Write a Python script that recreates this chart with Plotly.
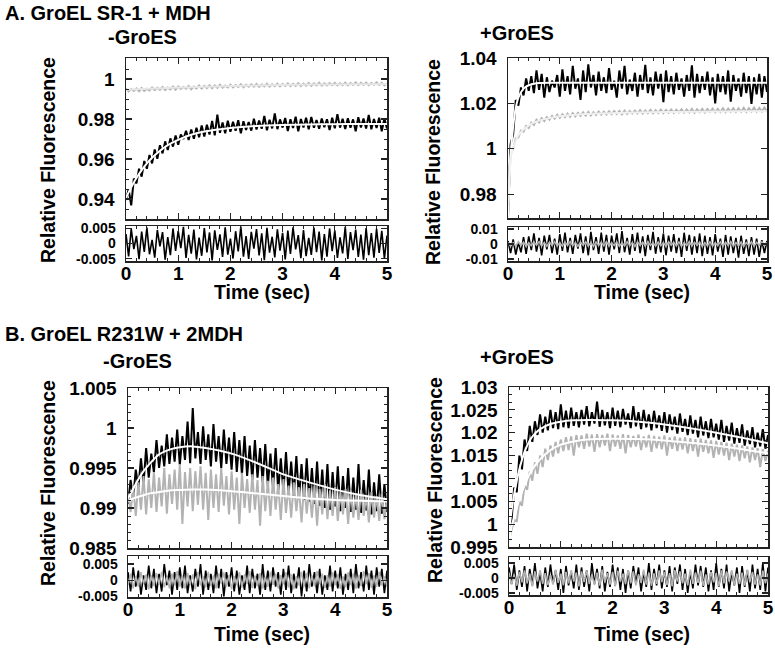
import numpy as np
import plotly.graph_objects as go

W, H = 775, 651
FONT = "Liberation Sans"
BLACK = "#000000"
GREY = "#b3b3b3"

# ---------------- data ----------------
# sampling grid of the recorded traces (sec)
T = list(np.round(np.linspace(0, 5, 101), 3))
# grid of the fitted curves (sec)
FT = [0, .05, .1, .15, .2, .3, .4, .5, .6, .8, 1.0, 1.25, 1.5, 2, 2.5, 3, 3.5, 4, 4.5, 5]

# A. GroEL SR-1 + MDH, -GroES
a1_black = [.9395, .9448, .9368, .9502, .9478, .9551, .9512, .9590, .9551, .9620,
            .9578, .9648, .9601, .9669, .9628, .9688, .9645, .9703, .9662, .9718,
            .9671, .9722, .9700, .9741, .9695, .9748, .9701, .9756, .9709, .9768,
            .9712, .9771, .9722, .9790, .9718, .9822, .9731, .9782, .9729, .9791,
            .9736, .9786, .9741, .9794, .9728, .9789, .9745, .9785, .9742, .9801,
            .9748, .9792, .9751, .9815, .9744, .9796, .9753, .9828, .9749, .9798,
            .9757, .9805, .9740, .9799, .9755, .9811, .9738, .9800, .9758, .9806,
            .9748, .9810, .9756, .9795, .9751, .9802, .9759, .9799, .9745, .9806,
            .9754, .9824, .9757, .9801, .9750, .9804, .9756, .9798, .9739, .9809,
            .9758, .9802, .9752, .9820, .9749, .9800, .9755, .9806, .9738, .9803,
            .9752]
a1_grey = [.9952, .9938, .9950, .9940, .9953, .9939, .9955, .9941, .9951, .9943,
           .9958, .9944, .9956, .9946, .9960, .9945, .9957, .9948, .9962, .9947,
           .9963, .9950, .9960, .9951, .9965, .9949, .9962, .9953, .9967, .9952,
           .9966, .9955, .9969, .9954, .9968, .9956, .9971, .9957, .9967, .9958,
           .9972, .9958, .9970, .9960, .9974, .9959, .9971, .9961, .9973, .9962,
           .9975, .9961, .9972, .9963, .9976, .9962, .9974, .9964, .9977, .9963,
           .9975, .9965, .9978, .9964, .9976, .9966, .9979, .9965, .9977, .9967,
           .9980, .9966, .9978, .9968, .9981, .9967, .9978, .9968, .9980, .9969,
           .9981, .9968, .9979, .9969, .9982, .9968, .9980, .9970, .9983, .9969,
           .9981, .9970, .9982, .9969, .9980, .9971, .9983, .9970, .9981, .9968,
           .9979]
a1_black_fit = [.9405, .9433, .9459, .9483, .9505, .9544, .9578, .9606, .9630, .9669,
                .9696, .9721, .9737, .9755, .9765, .9770, .9773, .9774, .9775, .9775]
a1_grey_fit = [.9945, .9946, .9947, .9948, .9949, .9950, .9951, .9952, .9953, .9955,
               .9957, .9959, .9961, .9965, .9968, .9970, .9972, .9973, .9974, .9975]
a1_res_black = [.0031, -.0042, .0048, -.0018, .0025, -.0051, .0039, -.0027, .0052, -.0035,
                .0012, -.0046, .0044, -.0009, .0037, -.0053, .0021, -.0038, .0049, -.0024,
                .0041, -.0015, .0054, -.0047, .0028, -.0033, .0045, -.0052, .0019, -.0040,
                .0050, -.0029, .0036, -.0055, .0043, -.0021, .0030, -.0044, .0053, -.0036,
                .0016, -.0049, .0040, -.0026, .0055, -.0043, .0024, -.0050, .0038, -.0017,
                .0047, -.0039, .0033, -.0054, .0051, -.0030, .0022, -.0045, .0046, -.0023,
                .0035, -.0052, .0042, -.0034, .0053, -.0019, .0027, -.0048, .0044, -.0041,
                .0018, -.0037, .0052, -.0028, .0039, -.0055, .0031, -.0043, .0049, -.0025,
                .0043, -.0047, .0020, -.0032, .0054, -.0050, .0037, -.0022, .0045, -.0044,
                .0029, -.0053, .0050, -.0038, .0034, -.0046, .0048, -.0031, .0041, -.0049,
                .0026]

# A. GroEL SR-1 + MDH, +GroES
a2_black = [.9700, 1.0020, 1.0065, 1.0215, 1.0190, 1.0270, 1.0235, 1.0310, 1.0255, 1.0320,
            1.0245, 1.0345, 1.0260, 1.0330, 1.0225, 1.0315, 1.0250, 1.0300, 1.0270, 1.0325,
            1.0230, 1.0350, 1.0255, 1.0320, 1.0240, 1.0365, 1.0265, 1.0310, 1.0215, 1.0345,
            1.0250, 1.0372, 1.0270, 1.0325, 1.0235, 1.0340, 1.0255, 1.0315, 1.0245, 1.0355,
            1.0260, 1.0300, 1.0225, 1.0345, 1.0265, 1.0365, 1.0240, 1.0305, 1.0255, 1.0335,
            1.0230, 1.0325, 1.0260, 1.0370, 1.0245, 1.0315, 1.0235, 1.0340, 1.0265, 1.0330,
            1.0205, 1.0345, 1.0250, 1.0320, 1.0240, 1.0335, 1.0260, 1.0310, 1.0230, 1.0325,
            1.0255, 1.0368, 1.0225, 1.0330, 1.0245, 1.0320, 1.0260, 1.0340, 1.0235, 1.0315,
            1.0200, 1.0330, 1.0250, 1.0320, 1.0240, 1.0345, 1.0208, 1.0325, 1.0255, 1.0310,
            1.0230, 1.0335, 1.0245, 1.0320, 1.0198, 1.0315, 1.0240, 1.0330, 1.0225, 1.0320,
            1.0250]
a2_grey = [.9740, .9975, 1.0000, 1.0045, 1.0050, 1.0080, 1.0075, 1.0100, 1.0092, 1.0115,
           1.0105, 1.0128, 1.0116, 1.0135, 1.0122, 1.0140, 1.0128, 1.0145, 1.0133, 1.0150,
           1.0136, 1.0152, 1.0139, 1.0155, 1.0141, 1.0157, 1.0143, 1.0158, 1.0145, 1.0160,
           1.0146, 1.0162, 1.0147, 1.0161, 1.0149, 1.0164, 1.0150, 1.0163, 1.0151, 1.0165,
           1.0152, 1.0166, 1.0153, 1.0167, 1.0152, 1.0168, 1.0154, 1.0167, 1.0155, 1.0169,
           1.0156, 1.0170, 1.0155, 1.0169, 1.0157, 1.0171, 1.0156, 1.0170, 1.0158, 1.0172,
           1.0157, 1.0171, 1.0159, 1.0173, 1.0158, 1.0172, 1.0160, 1.0174, 1.0159, 1.0173,
           1.0160, 1.0175, 1.0159, 1.0174, 1.0161, 1.0176, 1.0160, 1.0175, 1.0162, 1.0177,
           1.0161, 1.0176, 1.0162, 1.0178, 1.0161, 1.0177, 1.0163, 1.0179, 1.0162, 1.0178,
           1.0163, 1.0180, 1.0162, 1.0179, 1.0164, 1.0181, 1.0163, 1.0180, 1.0164, 1.0182,
           1.0165]
a2_black_fit = [.9700, .9970, 1.0100, 1.0180, 1.0225, 1.0265, 1.0280, 1.0287, 1.0290, 1.0291,
                1.0291, 1.0291, 1.0291, 1.0291, 1.0291, 1.0291, 1.0291, 1.0291, 1.0291, 1.0291]
a2_grey_fit = [.9750, .9960, 1.0005, 1.0035, 1.0060, 1.0085, 1.0102, 1.0115, 1.0124, 1.0135,
               1.0143, 1.0149, 1.0153, 1.0157, 1.0160, 1.0162, 1.0163, 1.0164, 1.0165, 1.0165]
a2_res_black = [.0020, -.0060, .0030, -.0070, .0010, -.0055, .0045, -.0065, .0050, -.0040,
                .0070, -.0050, .0040, -.0075, .0055, -.0035, .0060, -.0060, .0035, -.0070,
                .0065, -.0045, .0075, -.0055, .0040, -.0065, .0060, -.0030, .0070, -.0060,
                .0050, -.0075, .0080, -.0040, .0045, -.0065, .0075, -.0050, .0060, -.0070,
                .0055, -.0035, .0070, -.0060, .0085, -.0055, .0040, -.0070, .0065, -.0045,
                .0075, -.0060, .0050, -.0080, .0060, -.0040, .0080, -.0065, .0045, -.0055,
                .0070, -.0075, .0055, -.0050, .0065, -.0060, .0040, -.0085, .0075, -.0045,
                .0060, -.0070, .0050, -.0060, .0070, -.0080, .0055, -.0065, .0045, -.0075,
                .0065, -.0050, .0035, -.0085, .0060, -.0070, .0050, -.0060, .0040, -.0090,
                .0055, -.0065, .0030, -.0080, .0045, -.0070, .0035, -.0085, .0025, -.0060,
                .0020]
a2_res_grey = [.0010, -.0014, .0008, -.0012, .0015, -.0010, .0012, -.0016, .0009, -.0011,
               .0014, -.0008, .0016, -.0013, .0010, -.0015, .0012, -.0009, .0015, -.0012,
               .0008, -.0014, .0013, -.0010, .0016, -.0011, .0009, -.0015, .0012, -.0008,
               .0015, -.0013, .0010, -.0016, .0014, -.0009, .0011, -.0012, .0016, -.0014,
               .0009, -.0010, .0013, -.0015, .0008, -.0012, .0015, -.0011, .0010, -.0016,
               .0014, -.0009, .0012, -.0013, .0016, -.0010, .0009, -.0014, .0013, -.0011,
               .0010, -.0016, .0015, -.0008, .0012, -.0012, .0014, -.0015, .0009, -.0010,
               .0016, -.0013, .0011, -.0009, .0013, -.0016, .0010, -.0012, .0015, -.0014,
               .0008, -.0011, .0014, -.0015, .0012, -.0009, .0016, -.0013, .0010, -.0012,
               .0013, -.0016, .0009, -.0010, .0015, -.0014, .0011, -.0008, .0014, -.0013,
               .0010]

# B. GroEL R231W + 2MDH, -GroES
b1_black = [.9905, .9935, .9912, .9948, .9925, .9962, .9930, .9975, .9938, .9968,
            .9945, .9985, .9950, .9978, .9952, .9992, .9955, .9988, .9958, .9998,
            .9954, .9990, .9960, 1.0008, .9956, 1.0025, .9962, .9995, .9955, 1.0002,
            .9960, .9992, .9952, 1.0005, .9958, .9990, .9950, .9998, .9955, .9988,
            .9948, .9995, .9945, .9985, .9942, .9990, .9940, .9978, .9935, .9985,
            .9938, .9975, .9932, .9980, .9928, .9968, .9925, .9975, .9922, .9962,
            .9920, .9970, .9918, .9958, .9915, .9965, .9912, .9955, .9910, .9962,
            .9908, .9950, .9905, .9958, .9903, .9948, .9900, .9955, .9898, .9945,
            .9902, .9952, .9896, .9940, .9900, .9950, .9895, .9938, .9898, .9955,
            .9894, .9935, .9897, .9948, .9892, .9932, .9896, .9942, .9893, .9930,
            .9895]
b1_grey = [.9918, .9895, .9928, .9890, .9932, .9898, .9940, .9892, .9936, .9900,
           .9945, .9895, .9938, .9902, .9950, .9893, .9942, .9905, .9948, .9898,
           .9955, .9880, .9945, .9902, .9950, .9896, .9946, .9904, .9952, .9898,
           .9944, .9885, .9948, .9900, .9942, .9895, .9950, .9903, .9940, .9892,
           .9946, .9898, .9938, .9880, .9944, .9900, .9936, .9894, .9942, .9898,
           .9935, .9878, .9940, .9896, .9934, .9890, .9938, .9898, .9930, .9885,
           .9936, .9894, .9928, .9888, .9932, .9896, .9926, .9882, .9930, .9893,
           .9925, .9888, .9928, .9878, .9924, .9892, .9930, .9886, .9922, .9890,
           .9926, .9884, .9920, .9892, .9924, .9880, .9922, .9888, .9918, .9885,
           .9923, .9890, .9916, .9882, .9920, .9888, .9915, .9884, .9918, .9886,
           .9912]
b1_black_fit = [.9912, .9918, .9924, .9930, .9936, .9946, .9954, .9961, .9967, .9973,
                .9976, .9977, .9975, .9968, .9956, .9942, .9932, .9923, .9916, .9911]
b1_grey_fit = [.9909, .9910, .9912, .9913, .9914, .9916, .9918, .9919, .9920, .9922,
               .99225, .9923, .9923, .9921, .9918, .9915, .9912, .9910, .9909, .9908]
b1_res_black = [.0025, -.0035, .0040, -.0020, .0030, -.0045, .0015, -.0030, .0045, -.0025,
                .0035, -.0040, .0020, -.0035, .0050, -.0015, .0030, -.0045, .0025, -.0030,
                .0040, -.0025, .0045, -.0040, .0015, -.0035, .0035, -.0020, .0050, -.0045,
                .0030, -.0030, .0020, -.0040, .0045, -.0025, .0035, -.0050, .0025, -.0020,
                .0040, -.0035, .0030, -.0045, .0015, -.0030, .0045, -.0040, .0035, -.0025,
                .0020, -.0045, .0050, -.0030, .0030, -.0035, .0040, -.0020, .0025, -.0045,
                .0035, -.0030, .0045, -.0040, .0020, -.0025, .0040, -.0050, .0030, -.0035,
                .0050, -.0020, .0025, -.0040, .0035, -.0045, .0015, -.0030, .0045, -.0035,
                .0030, -.0025, .0040, -.0045, .0020, -.0030, .0035, -.0040, .0050, -.0025,
                .0025, -.0035, .0045, -.0030, .0030, -.0045, .0040, -.0020, .0035, -.0040,
                .0030]
b1_res_grey = [-.0015, .0020, -.0025, .0012, -.0020, .0025, -.0010, .0018, -.0028, .0015,
               -.0018, .0022, -.0012, .0026, -.0022, .0010, -.0025, .0020, -.0015, .0028,
               -.0020, .0014, -.0026, .0022, -.0012, .0018, -.0028, .0025, -.0016, .0012,
               -.0022, .0026, -.0018, .0015, -.0025, .0020, -.0010, .0024, -.0020, .0016,
               -.0028, .0012, -.0015, .0025, -.0022, .0018, -.0012, .0028, -.0024, .0014,
               -.0018, .0022, -.0026, .0010, -.0020, .0026, -.0014, .0020, -.0025, .0016,
               -.0012, .0024, -.0022, .0018, -.0028, .0012, -.0016, .0026, -.0020, .0022,
               -.0025, .0014, -.0018, .0028, -.0012, .0020, -.0024, .0016, -.0020, .0025,
               -.0015, .0018, -.0027, .0012, -.0022, .0024, -.0014, .0020, -.0026, .0016,
               -.0018, .0028, -.0012, .0022, -.0024, .0015, -.0020, .0026, -.0016, .0012,
               -.0020]

# B. GroEL R231W + 2MDH, +GroES
b2_black = [.9990, 1.0010, 1.0080, 1.0070, 1.0150, 1.0120, 1.0185, 1.0160, 1.0215, 1.0180,
            1.0225, 1.0195, 1.0240, 1.0200, 1.0235, 1.0205, 1.0250, 1.0210, 1.0245, 1.0208,
            1.0262, 1.0212, 1.0248, 1.0210, 1.0255, 1.0215, 1.0245, 1.0212, 1.0250, 1.0218,
            1.0258, 1.0214, 1.0245, 1.0220, 1.0268, 1.0213, 1.0250, 1.0216, 1.0245, 1.0210,
            1.0255, 1.0215, 1.0248, 1.0212, 1.0252, 1.0218, 1.0242, 1.0210, 1.0258, 1.0214,
            1.0245, 1.0208, 1.0250, 1.0212, 1.0240, 1.0205, 1.0248, 1.0210, 1.0238, 1.0204,
            1.0245, 1.0200, 1.0240, 1.0206, 1.0235, 1.0198, 1.0242, 1.0202, 1.0230, 1.0195,
            1.0238, 1.0198, 1.0228, 1.0190, 1.0235, 1.0194, 1.0225, 1.0188, 1.0230, 1.0190,
            1.0220, 1.0185, 1.0228, 1.0180, 1.0215, 1.0183, 1.0222, 1.0176, 1.0210, 1.0178,
            1.0218, 1.0172, 1.0205, 1.0175, 1.0212, 1.0168, 1.0200, 1.0170, 1.0208, 1.0165,
            1.0195]
b2_grey = [.9965, .9985, 1.0010, 1.0005, 1.0050, 1.0040, 1.0085, 1.0075, 1.0115, 1.0095,
           1.0135, 1.0110, 1.0150, 1.0125, 1.0165, 1.0140, 1.0172, 1.0148, 1.0180, 1.0155,
           1.0185, 1.0160, 1.0190, 1.0162, 1.0192, 1.0150, 1.0195, 1.0168, 1.0194, 1.0165,
           1.0198, 1.0170, 1.0196, 1.0158, 1.0197, 1.0168, 1.0195, 1.0172, 1.0198, 1.0160,
           1.0196, 1.0170, 1.0194, 1.0165, 1.0197, 1.0155, 1.0195, 1.0168, 1.0193, 1.0170,
           1.0196, 1.0162, 1.0192, 1.0168, 1.0195, 1.0158, 1.0193, 1.0166, 1.0191, 1.0164,
           1.0194, 1.0150, 1.0190, 1.0165, 1.0192, 1.0160, 1.0189, 1.0163, 1.0190, 1.0155,
           1.0188, 1.0160, 1.0186, 1.0148, 1.0187, 1.0158, 1.0184, 1.0155, 1.0183, 1.0145,
           1.0182, 1.0152, 1.0180, 1.0150, 1.0178, 1.0140, 1.0176, 1.0148, 1.0174, 1.0138,
           1.0172, 1.0144, 1.0170, 1.0135, 1.0168, 1.0140, 1.0166, 1.0125, 1.0164, 1.0138,
           1.0160]
b2_black_fit = [.9980, 1.0030, 1.0065, 1.0095, 1.0120, 1.0158, 1.0183, 1.0198, 1.0208, 1.0219,
                1.0224, 1.0227, 1.0228, 1.0227, 1.0224, 1.0218, 1.0210, 1.0200, 1.0189, 1.0177]
b2_grey_fit = [.9960, .9995, 1.0015, 1.0035, 1.0055, 1.0085, 1.0110, 1.0128, 1.0142, 1.0162,
               1.0174, 1.0181, 1.0185, 1.0187, 1.0186, 1.0183, 1.0178, 1.0172, 1.0164, 1.0155]
b2_res_black = [.0035, -.0020, .0045, -.0040, .0025, -.0030, .0040, -.0045, .0030, -.0025,
                .0050, -.0035, .0020, -.0045, .0035, -.0030, .0045, -.0020, .0025, -.0040,
                .0030, -.0050, .0040, -.0025, .0020, -.0035, .0045, -.0040, .0035, -.0030,
                .0025, -.0045, .0050, -.0020, .0030, -.0035, .0040, -.0045, .0020, -.0030,
                .0045, -.0025, .0035, -.0040, .0030, -.0050, .0025, -.0035, .0040, -.0020,
                .0035, -.0045, .0020, -.0030, .0050, -.0040, .0030, -.0025, .0045, -.0035,
                .0025, -.0030, .0040, -.0045, .0035, -.0020, .0045, -.0040, .0030, -.0050,
                .0020, -.0035, .0045, -.0025, .0040, -.0030, .0035, -.0045, .0025, -.0040,
                .0050, -.0030, .0030, -.0035, .0045, -.0045, .0020, -.0025, .0035, -.0050,
                .0040, -.0030, .0025, -.0045, .0045, -.0035, .0030, -.0040, .0050, -.0045,
                .0035]
b2_res_grey = [.0018, -.0022, .0012, -.0026, .0020, -.0015, .0025, -.0018, .0014, -.0028,
               .0022, -.0012, .0026, -.0020, .0016, -.0024, .0010, -.0022, .0028, -.0016,
               .0014, -.0025, .0020, -.0018, .0026, -.0012, .0018, -.0028, .0022, -.0014,
               .0025, -.0020, .0012, -.0024, .0018, -.0026, .0028, -.0015, .0016, -.0022,
               .0020, -.0028, .0024, -.0012, .0014, -.0020, .0026, -.0018, .0022, -.0025,
               .0012, -.0016, .0028, -.0022, .0018, -.0026, .0015, -.0020, .0025, -.0014,
               .0020, -.0024, .0016, -.0028, .0026, -.0012, .0022, -.0018, .0014, -.0025,
               .0028, -.0020, .0018, -.0016, .0024, -.0026, .0012, -.0022, .0020, -.0015,
               .0016, -.0028, .0025, -.0018, .0022, -.0012, .0026, -.0024, .0014, -.0020,
               .0018, -.0026, .0028, -.0014, .0020, -.0022, .0012, -.0025, .0024, -.0018,
               .0015]

# tick labels
X_TICKS = [0, 1, 2, 3, 4, 5]
X_LABELS = ["0", "1", "2", "3", "4", "5"]
A1_YTICKS = [0.94, 0.96, 0.98, 1.0]
A1_YLABELS = ["0.94", "0.96", "0.98", "1"]
A2_YTICKS = [0.98, 1.0, 1.02, 1.04]
A2_YLABELS = ["0.98", "1", "1.02", "1.04"]
B1_YTICKS = [0.985, 0.99, 0.995, 1.0, 1.005]
B1_YLABELS = ["0.985", "0.99", "0.995", "1", "1.005"]
B2_YTICKS = [0.995, 1.0, 1.005, 1.01, 1.015, 1.02, 1.025, 1.03]
B2_YLABELS = ["0.995", "1", "1.005", "1.01", "1.015", "1.02", "1.025", "1.03"]
RES_A1_TICKS, RES_A1_LABELS = [-0.005, 0, 0.005], ["-0.005", "0", "0.005"]
RES_A2_TICKS, RES_A2_LABELS = [-0.01, 0, 0.01], ["-0.01", "0", "0.01"]
RES_B_TICKS, RES_B_LABELS = [-0.005, 0, 0.005], ["-0.005", "0", "0.005"]

# ---------------- figure ----------------
fig = go.Figure()


def dx(l, r):
    return [l / W, r / W]


def dy(t, b):
    return [1 - b / H, 1 - t / H]


def add_line(xs, ys, color, width, n, shape="linear"):
    sfx = "" if n == 1 else str(n)
    line = dict(color=color, width=width, shape=shape)
    if shape == "spline":
        line["smoothing"] = 0.6
    fig.add_trace(go.Scatter(x=xs[:len(ys)], y=ys, mode="lines", line=line,
                             hoverinfo="skip", xaxis="x" + sfx, yaxis="y" + sfx))


TICKFONT = dict(family=FONT, size=19, color="black", weight="bold")
RESFONT = dict(family=FONT, size=14, color="black", weight="bold")


def xaxis(n, dom, labels):
    sfx = "" if n == 1 else str(n)
    return dict(domain=dom, range=[0, 5], anchor="y" + sfx, showline=True,
                linecolor="#222", linewidth=1.5, mirror="ticks", ticks="inside",
                ticklen=6, tickwidth=1.2, tickcolor="#222", tickmode="array",
                tickvals=X_TICKS, ticktext=X_LABELS, showticklabels=labels,
                tickfont=TICKFONT, showgrid=False, zeroline=False, automargin=False,
                ticklabelstandoff=-5,
                minor=dict(ticks="inside", tickmode="linear", tick0=0, dtick=0.2,
                           ticklen=3, tickwidth=1, tickcolor="#222", showgrid=False))


def yaxis(n, dom, rng, tv, tt, font, minor_dtick=None, standoff=6):
    sfx = "" if n == 1 else str(n)
    d = dict(domain=dom, range=rng, anchor="x" + sfx, showline=True,
             linecolor="#222", linewidth=1.5, mirror="ticks", ticks="inside",
             ticklen=6, tickwidth=1.2, tickcolor="#222", tickmode="array",
             tickvals=tv, ticktext=tt, tickfont=font, showgrid=False,
             zeroline=False, ticklabelstandoff=standoff, automargin=False)
    if minor_dtick:
        d["minor"] = dict(ticks="inside", tickmode="linear", tick0=tv[0],
                          dtick=minor_dtick, ticklen=3, tickwidth=1,
                          tickcolor="#222", showgrid=False)
    return d


NW = 2.0   # width of the noisy recorded traces
RW = 1.6   # width of the residual traces

# panel A left
add_line(T, a1_grey, GREY, NW, 1)
add_line(T, a1_black, BLACK, NW, 1)
add_line(FT, a1_grey_fit, "#e6e6e6", 2, 1, "spline")
add_line(FT, a1_black_fit, "white", 2, 1, "spline")
add_line(T, a1_res_black, BLACK, RW, 2)
# panel A right
add_line(T, a2_black, BLACK, NW, 3)
add_line(T, a2_grey, GREY, NW, 3)
add_line(FT, a2_black_fit, "white", 2, 3, "spline")
add_line(FT, a2_grey_fit, "#f0f0f0", 2, 3, "spline")
add_line(T, a2_res_black, BLACK, RW, 4)
add_line(T, a2_res_grey, GREY, RW, 4)
# panel B left
add_line(T, b1_black, BLACK, NW, 5)
add_line(T, b1_grey, GREY, NW, 5)
add_line(FT, b1_black_fit, "white", 2, 5, "spline")
add_line(FT, b1_grey_fit, "white", 2, 5, "spline")
add_line(T, b1_res_black, BLACK, RW, 6)
add_line(T, b1_res_grey, GREY, RW, 6)
# panel B right
add_line(T, b2_black, BLACK, NW, 7)
add_line(T, b2_grey, GREY, NW, 7)
add_line(FT, b2_black_fit, "white", 2, 7, "spline")
add_line(FT, b2_grey_fit, "white", 2, 7, "spline")
add_line(T, b2_res_black, BLACK, RW, 8)
add_line(T, b2_res_grey, GREY, RW, 8)

layout = dict(width=W, height=H,
              margin=dict(l=0, r=0, t=0, b=0, pad=0, autoexpand=False),
              paper_bgcolor="white", plot_bgcolor="white", showlegend=False)

layout["xaxis"] = xaxis(1, dx(126, 387), False)
layout["yaxis"] = yaxis(1, dy(58, 219), [0.93, 1.0105], A1_YTICKS, A1_YLABELS, TICKFONT, 0.005)
layout["xaxis2"] = xaxis(2, dx(126, 387), True)
layout["yaxis2"] = yaxis(2, dy(226, 261), [-0.0057, 0.0057], RES_A1_TICKS, RES_A1_LABELS, RESFONT)

layout["xaxis3"] = xaxis(3, dx(508, 767), False)
layout["yaxis3"] = yaxis(3, dy(58, 218), [0.9695, 1.04], A2_YTICKS, A2_YLABELS, TICKFONT)
layout["xaxis4"] = xaxis(4, dx(508, 767), True)
layout["yaxis4"] = yaxis(4, dy(227, 261), [-0.0113, 0.0113], RES_A2_TICKS, RES_A2_LABELS, RESFONT)

layout["xaxis5"] = xaxis(5, dx(128, 387), False)
layout["yaxis5"] = yaxis(5, dy(388, 548), [0.985, 1.005], B1_YTICKS, B1_YLABELS, TICKFONT, 0.001)
layout["xaxis6"] = xaxis(6, dx(128, 387), True)
layout["yaxis6"] = yaxis(6, dy(556, 597), [-0.0052, 0.0075], RES_B_TICKS, RES_B_LABELS, RESFONT)

layout["xaxis7"] = xaxis(7, dx(509, 768), False)
layout["yaxis7"] = yaxis(7, dy(387, 547), [0.995, 1.03], B2_YTICKS, B2_YLABELS, TICKFONT, 0.005 / 3)
layout["xaxis8"] = xaxis(8, dx(509, 768), True)
layout["yaxis8"] = yaxis(8, dy(557, 595), [-0.0057, 0.0070], RES_B_TICKS, RES_B_LABELS, RESFONT)

fig.update_layout(**layout)


def text(s, x, y, size=19.5, xanchor="center", angle=0):
    fig.add_annotation(text=s, x=x / W, y=1 - y / H, xref="paper", yref="paper",
                       xanchor=xanchor, yanchor="middle", showarrow=False,
                       textangle=angle,
                       font=dict(family=FONT, size=size, color="black", weight="bold"))


text("A. GroEL SR-1 + MDH", 3, 13, 20, "left")
text("-GroES", 142, 37, 20)
text("+GroES", 517, 33, 20)
text("B. GroEL R231W + 2MDH", 3, 334, 20, "left")
text("-GroES", 137, 361, 20)
text("+GroES", 517, 357, 20)
for (x, y) in [(48, 160), (433, 162), (48, 483), (435, 480)]:
    text("Relative Fluorescence", x, y, 19.5, "center", -90)
for (x, y) in [(262, 292), (642, 292), (262, 634), (642, 634)]:
    text("Time (sec)", x, y, 19.5)

fig.write_html("out.html",
               config={"displayModeBar": False, "staticPlot": True},
               post_script="document.body.style.margin='0px';"
                           "document.body.style.overflow='hidden';")
